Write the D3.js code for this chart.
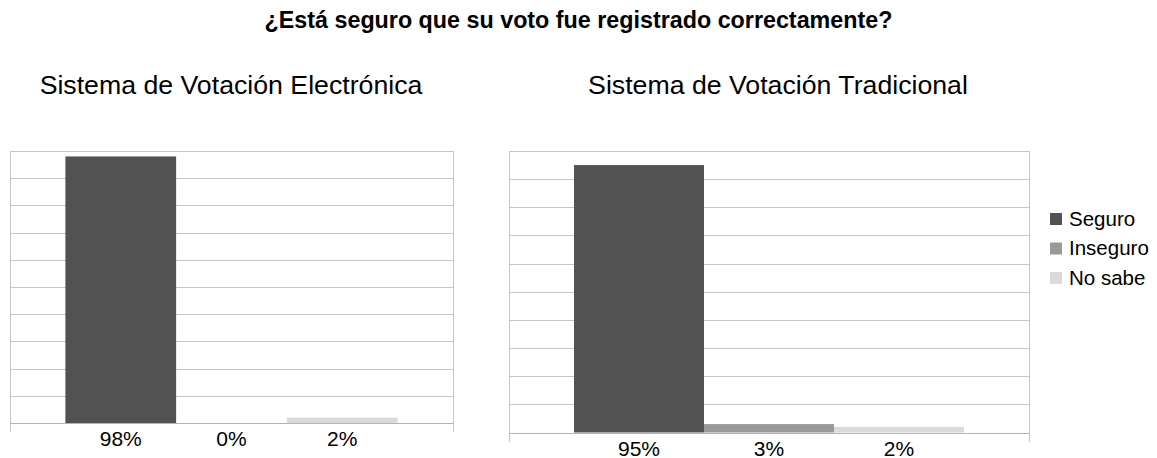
<!DOCTYPE html>
<html>
<head>
<meta charset="utf-8">
<script src="https://cdn.jsdelivr.net/npm/d3@7"></script>
<style>
  html, body { margin: 0; padding: 0; background: #fff; }
  text { font-family: "Liberation Sans", Arial, sans-serif; fill: #000; }
</style>
</head>
<body>
<div id="chart"></div>
<script>
// data
const categories = ["Seguro", "Inseguro", "No sabe"];
const electronica = [98, 0, 2];
const tradicional = [95, 3, 2];
const yTicks = [0, 10, 20, 30, 40, 50, 60, 70, 80, 90, 100];
const colors = ["#525252", "#999999", "#dadada"];

const width = 1157, height = 458;

const svg = d3.select("#chart").append("svg")
    .attr("width", width)
    .attr("height", height)
    .attr("viewBox", [0, 0, width, height]);

svg.append("text")
    .attr("x", width / 2)
    .attr("y", 28)
    .attr("text-anchor", "middle")
    .attr("font-size", 23.3)
    .attr("font-weight", "bold")
    .text("¿Está seguro que su voto fue registrado correctamente?");

// one panel per voting system
function panel(values, title, box, titleX) {
    const x = d3.scaleBand()
        .domain(categories)
        .range([box.left, box.right])
        .paddingInner(0)
        .paddingOuter(0.5);

    const y = d3.scaleLinear()
        .domain([0, 100])
        .range([box.bottom, box.top]);

    const g = svg.append("g");

    // gridlines
    g.append("g")
        .attr("stroke", "#c6c6c6")
        .attr("stroke-width", 1)
        .selectAll("line")
        .data(yTicks)
        .join("line")
        .attr("x1", box.left)
        .attr("x2", box.right)
        .attr("y1", d => Math.round(y(d)) + 0.5)
        .attr("y2", d => Math.round(y(d)) + 0.5);

    // side borders, reaching a little below the baseline
    g.append("g")
        .attr("stroke", "#c6c6c6")
        .selectAll("line")
        .data([box.left, box.right])
        .join("line")
        .attr("x1", d => Math.round(d) + 0.5)
        .attr("x2", d => Math.round(d) + 0.5)
        .attr("y1", Math.round(y(100)))
        .attr("y2", Math.round(y(0)) + 9);

    // bars
    g.append("g")
        .selectAll("rect")
        .data(values)
        .join("rect")
        .attr("x", (d, i) => x(categories[i]))
        .attr("width", x.bandwidth())
        .attr("y", d => y(d))
        .attr("height", d => y(0) - y(d))
        .attr("fill", (d, i) => colors[i]);

    // baseline on top
    g.append("line")
        .attr("stroke", "#b4b4b4")
        .attr("x1", box.left)
        .attr("x2", box.right)
        .attr("y1", Math.round(y(0)) + 0.5)
        .attr("y2", Math.round(y(0)) + 0.5);

    // labels under bars
    g.append("g")
        .selectAll("text")
        .data(values)
        .join("text")
        .attr("x", (d, i) => x(categories[i]) + x.bandwidth() / 2)
        .attr("y", y(0) + 23)
        .attr("text-anchor", "middle")
        .attr("font-size", 21)
        .text(d => d + "%");

    svg.append("text")
        .attr("x", titleX)
        .attr("y", 94)
        .attr("text-anchor", "middle")
        .attr("font-size", 26.7)
        .text(title);
}

panel(electronica, "Sistema de Votación Electrónica",
    { left: 10, right: 453, top: 151, bottom: 423 }, 231);
panel(tradicional, "Sistema de Votación Tradicional",
    { left: 509, right: 1029, top: 151, bottom: 432.5 }, 778);

// legend
const legend = svg.append("g")
    .attr("transform", "translate(1050,213)");

const item = legend.selectAll("g")
    .data(categories)
    .join("g")
    .attr("transform", (d, i) => `translate(0,${i * 29.5})`);

item.append("rect")
    .attr("width", 12)
    .attr("height", 12)
    .attr("fill", (d, i) => colors[i]);

item.append("text")
    .attr("x", 19)
    .attr("y", 12.5)
    .attr("font-size", 20.5)
    .text(d => d);
</script>
</body>
</html>
